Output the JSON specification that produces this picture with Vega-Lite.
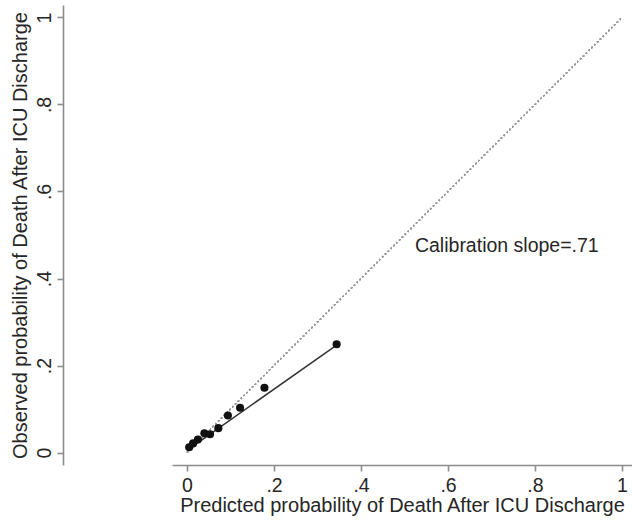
{
  "$schema": "https://vega.github.io/schema/vega-lite/v6.json",
  "width": 460,
  "height": 460,
  "autosize": {"type": "none"},
  "padding": {"left": 172, "top": 5, "right": 0, "bottom": 64},
  "background": "white",
  "config": {
    "view": {"stroke": null},
    "font": "Liberation Sans",
    "axis": {
      "grid": false,
      "domainColor": "#8c8c8c",
      "domainWidth": 1.6,
      "tickColor": "#8c8c8c",
      "tickWidth": 1.6,
      "tickSize": 6,
      "labelFont": "Liberation Sans",
      "labelFontSize": 19.5,
      "labelColor": "#262626",
      "titleFont": "Liberation Sans",
      "titleFontSize": 20,
      "titleFontWeight": "normal",
      "titleColor": "#262626"
    }
  },
  "data": {
    "values": [
      {"pred": 0.005, "obs": 0.012},
      {"pred": 0.014, "obs": 0.021},
      {"pred": 0.025, "obs": 0.030},
      {"pred": 0.040, "obs": 0.044},
      {"pred": 0.053, "obs": 0.042},
      {"pred": 0.072, "obs": 0.056},
      {"pred": 0.094, "obs": 0.085},
      {"pred": 0.122, "obs": 0.103},
      {"pred": 0.178, "obs": 0.149},
      {"pred": 0.344, "obs": 0.249}
    ]
  },
  "layer": [
    {
      "mark": {"type": "rule", "color": "#9a9a9a", "strokeWidth": 1.2, "strokeDash": [1.5, 2.5]},
      "encoding": {
        "x": {"datum": 0, "type": "quantitative", "scale": {"domain": [-0.0345, 1.023], "nice": false, "zero": false}},
        "y": {"datum": 0, "type": "quantitative", "scale": {"domain": [-0.0287, 1.0287], "nice": false, "zero": false}},
        "x2": {"datum": 1},
        "y2": {"datum": 1}
      }
    },
    {
      "data": {"values": [{"pred": 0.005, "fit": 0.0085}, {"pred": 0.344, "fit": 0.247}]},
      "mark": {"type": "line", "color": "#333333", "strokeWidth": 1.5},
      "encoding": {
        "x": {"field": "pred", "type": "quantitative"},
        "y": {"field": "fit", "type": "quantitative"}
      }
    },
    {
      "mark": {"type": "point", "filled": true, "color": "#111111", "size": 66, "opacity": 1},
      "encoding": {
        "x": {
          "field": "pred", "type": "quantitative",
          "axis": {
            "title": "Predicted probability of Death After ICU Discharge",
            "values": [0, 0.2, 0.4, 0.6, 0.8, 1],
            "labelExpr": "datum.value == 0 ? '0' : datum.value == 1 ? '1' : replace(format(datum.value, '.1f'), '0.', '.')",
            "labelPadding": 5,
            "labelFlush": false,
            "labelOverlap": false,
            "titleY": 30,
            "titleBaseline": "top"
          }
        },
        "y": {
          "field": "obs", "type": "quantitative",
          "axis": {
            "title": "Observed probability of Death After ICU Discharge",
            "values": [0, 0.2, 0.4, 0.6, 0.8, 1],
            "labelExpr": "datum.value == 0 ? '0' : datum.value == 1 ? '1' : replace(format(datum.value, '.1f'), '0.', '.')",
            "offset": 109,
            "labelAngle": -90,
            "labelAlign": "center",
            "labelBaseline": "alphabetic",
            "labelPadding": 7,
            "labelFlush": false,
            "labelOverlap": false,
            "titlePadding": 4
          }
        }
      }
    },
    {
      "data": {"values": [{"pred": 0.524, "obs": 0.475, "label": "Calibration slope=.71"}]},
      "mark": {"type": "text", "align": "left", "baseline": "middle", "fontSize": 19.5, "color": "#262626", "font": "Liberation Sans"},
      "encoding": {
        "x": {"field": "pred", "type": "quantitative"},
        "y": {"field": "obs", "type": "quantitative"},
        "text": {"field": "label"}
      }
    }
  ]
}
